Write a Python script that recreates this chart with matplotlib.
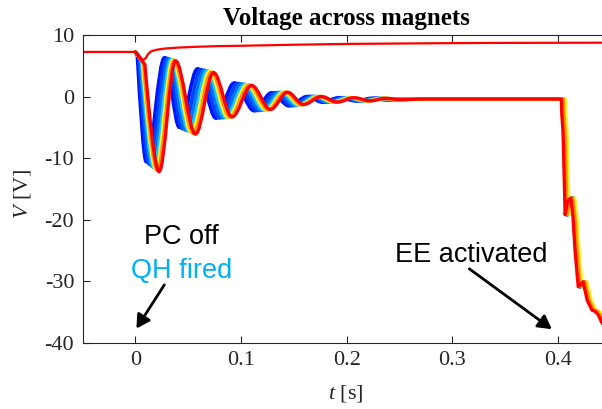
import matplotlib
matplotlib.use("Agg")
import matplotlib.pyplot as plt
from matplotlib.path import Path
from matplotlib.patches import PathPatch

plt.rcParams['axes.unicode_minus'] = False
plt.rcParams['mathtext.fontset'] = 'custom'
plt.rcParams['mathtext.it'] = 'Liberation Serif:italic'
plt.rcParams['mathtext.rm'] = 'Liberation Serif'

# ---------------- data ----------------
# upper red trace
t_top = [-0.05, 0.000, 0.002, 0.005, 0.0075, 0.010, 0.012, 0.015, 0.020, 0.028, 0.040,
         0.060, 0.080, 0.100, 0.150, 0.200, 0.250, 0.300, 0.350, 0.450]
v_top = [7.25, 7.25, 7.0, 6.3, 5.9, 6.3, 6.9, 7.35, 7.6, 7.8, 7.95,
         8.1, 8.2, 8.25, 8.42, 8.55, 8.62, 8.68, 8.72, 8.75]

# oscillating traces: start, knee, then alternating troughs / peaks, then settle point
t_c1 = [0.0, 0.0020, 0.0104, 0.0277, 0.0418, 0.0590, 0.0764, 0.0937, 0.1126, 0.1290,
        0.1456, 0.1630, 0.1770, 0.1930, 0.2090, 0.2240, 0.2400, 0.2600]
v_c1 = [7.25, 6.6, -10.6, 6.3, -5.0, 4.5, -3.5, 2.2, -2.3, 0.6,
        -1.5, 0.0, -0.9, -0.2, -0.7, -0.3, -0.55, -0.4]
t_c2 = [0.0, 0.0035, 0.0130, 0.0300, 0.0451, 0.0623, 0.0797, 0.0973, 0.1159, 0.1323,
        0.1486, 0.1659, 0.1801, 0.1961, 0.2119, 0.2269, 0.2426, 0.2622]
v_c2 = [7.25, 6.4, -10.95, 6.19, -5.24, 4.37, -3.46, 2.11, -2.26, 0.62,
        -1.46, 0.0, -0.9, -0.2, -0.7, -0.3, -0.54, -0.4]
t_c3 = [0.0, 0.0047, 0.0154, 0.0320, 0.0481, 0.0653, 0.0827, 0.1006, 0.1189, 0.1353,
        0.1512, 0.1685, 0.1829, 0.1989, 0.2145, 0.2295, 0.2450, 0.2642]
v_c3 = [7.25, 6.2, -11.27, 6.09, -5.46, 4.25, -3.42, 2.03, -2.22, 0.64,
        -1.42, 0.0, -0.9, -0.2, -0.7, -0.3, -0.53, -0.4]
t_c4 = [0.0, 0.0058, 0.0176, 0.0339, 0.0509, 0.0679, 0.0855, 0.1035, 0.1217, 0.1380,
        0.1536, 0.1708, 0.1854, 0.2014, 0.2168, 0.2318, 0.2472, 0.2660]
v_c4 = [7.25, 6.0, -11.56, 6.0, -5.66, 4.14, -3.38, 1.96, -2.18, 0.66,
        -1.38, 0.0, -0.9, -0.2, -0.7, -0.3, -0.52, -0.4]
t_c5 = [0.0, 0.0068, 0.0194, 0.0354, 0.0531, 0.0702, 0.0877, 0.1059, 0.1239, 0.1403,
        0.1557, 0.1728, 0.1875, 0.2035, 0.2188, 0.2338, 0.2490, 0.2675]
v_c5 = [7.25, 5.7, -11.8, 5.93, -5.83, 4.05, -3.35, 1.9, -2.15, 0.68,
        -1.35, 0.0, -0.9, -0.2, -0.7, -0.3, -0.51, -0.4]
t_c6 = [0.0, 0.0078, 0.0210, 0.0368, 0.0551, 0.0721, 0.0897, 0.1080, 0.1259, 0.1422,
        0.1574, 0.1744, 0.1893, 0.2053, 0.2204, 0.2354, 0.2506, 0.2688]
v_c6 = [7.25, 5.45, -12.0, 5.86, -5.97, 3.97, -3.32, 1.85, -2.12, 0.69,
        -1.32, 0.0, -0.9, -0.2, -0.7, -0.3, -0.5, -0.4]
t_c7 = [0.0, 0.0090, 0.0224, 0.0380, 0.0569, 0.0739, 0.0915, 0.1100, 0.1277, 0.1440,
        0.1590, 0.1760, 0.1910, 0.2070, 0.2220, 0.2370, 0.2520, 0.2700]
v_c7 = [7.25, 5.2, -12.2, 5.8, -6.1, 3.9, -3.3, 1.8, -2.1, 0.7,
        -1.3, 0.0, -0.9, -0.2, -0.7, -0.3, -0.5, -0.4]

# energy-extraction discharge: onset time per trace and common shape after onset
t_ee = [0.4045, 0.4048, 0.4052, 0.4058, 0.4066, 0.4048, 0.4030]
drop_dt = [0.0, 0.0005, 0.0015, 0.0020, 0.0036, 0.0060, 0.0090, 0.0110, 0.0130,
           0.0160, 0.0185, 0.0206, 0.0245, 0.0290, 0.0320, 0.0350, 0.0385, 0.0420]
drop_v = [-0.4, -3.0, -5.4, -8.0, -19.2, -17.0, -16.5, -19.5, -25.0,
          -30.9, -30.5, -30.1, -33.1, -34.7, -34.9, -35.5, -36.8, -37.5]

x_ticks = [0, 0.1, 0.2, 0.3, 0.4]
y_ticks = [-40, -30, -20, -10, 0, 10]

# ---------------- styling ----------------
colors = ['#0014FF', '#0040FF', '#0074FF', '#18C4FF', '#F2F030', '#FF9400', '#FF0000']
widths = [2.7, 2.7, 2.7, 2.7, 2.7, 2.6, 2.4]

fig = plt.figure(figsize=(6.02, 4.09), dpi=100)
W, H = 602.0, 409.0
ax = fig.add_axes([82.5 / W, (H - 342.7) / H, (611 - 82.5) / W, (342.7 - 35) / H])
ax.set_xlim(-0.05, 0.45)
ax.set_ylim(-40, 10)


def trace_path(ts, vs, t_on):
    verts = [(ts[0], vs[0]), (ts[1], vs[1])]
    codes = [Path.MOVETO, Path.LINETO]
    t0, v0, t1, v1 = ts[1], vs[1], ts[2], vs[2]
    d = t1 - t0
    verts += [(t0 + 0.3 * d, v0 + 0.45 * (v1 - v0)), (t1 - 0.3 * d, v1), (t1, v1)]
    codes += [Path.CURVE4] * 3
    for i in range(2, len(ts) - 1):
        t0, v0, t1, v1 = ts[i], vs[i], ts[i + 1], vs[i + 1]
        d = t1 - t0
        verts += [(t0 + 0.36 * d, v0), (t1 - 0.36 * d, v1), (t1, v1)]
        codes += [Path.CURVE4] * 3
    for dd, dv in zip(drop_dt, drop_v):
        verts.append((t_on + dd, dv))
        codes.append(Path.LINETO)
    return Path(verts, codes)


traces = [(t_c1, v_c1), (t_c2, v_c2), (t_c3, v_c3), (t_c4, v_c4),
          (t_c5, v_c5), (t_c6, v_c6), (t_c7, v_c7)]
for (ts, vs), ton, c, lw in zip(traces, t_ee, colors, widths):
    ax.add_patch(PathPatch(trace_path(ts, vs, ton), fill=False, edgecolor=c, lw=lw,
                           joinstyle='round', capstyle='round'))

ax.plot(t_top, v_top, color='#FF0000', lw=1.6)

# axes styling (MATLAB-like)
axc = '#262626'
for s in ['left', 'bottom', 'top']:
    ax.spines[s].set_color(axc)
    ax.spines[s].set_linewidth(0.8)
ax.spines['right'].set_visible(False)
ax.set_xticks(x_ticks)
ax.set_xticklabels(['0', '0.1', '0.2', '0.3', '0.4'])
ax.set_yticks(y_ticks)
ax.tick_params(direction='in', length=5, width=0.8, color=axc, labelcolor=axc,
               labelsize=16, top=True, right=False, pad=6)
for lab in ax.get_xticklabels() + ax.get_yticklabels():
    lab.set_fontfamily('Liberation Serif')

ax.set_title('Voltage across magnets', fontfamily='Liberation Serif',
             fontweight='bold', fontsize=18, pad=7)
ax.set_xlabel(r'$t$ [s]', fontfamily='Liberation Serif', fontsize=16, color=axc)
ax.set_ylabel(r'$V$ [V]', fontfamily='Liberation Serif', fontsize=16, color=axc)
ax.xaxis.set_label_coords((346 - 82.5) / (611 - 82.5), -(383 - 342.7) / (342.7 - 35))
ax.yaxis.set_label_coords(-(82.5 - 33) / (611 - 82.5), (342.7 - 194) / (342.7 - 35))

# annotations
ax.text(0.0434, -22.8, 'PC off', fontfamily='Liberation Sans', fontsize=19.5,
        color='black', ha='center', va='center')
ax.text(0.0434, -28.4, 'QH fired', fontfamily='Liberation Sans', fontsize=19.5,
        color='#00B0F0', ha='center', va='center')
ax.text(0.318, -25.8, 'EE activated', fontfamily='Liberation Sans', fontsize=19.5,
        color='black', ha='center', va='center')
arrow = dict(arrowstyle='-|>,head_length=0.8,head_width=0.45', color='black', lw=2,
             shrinkA=0, shrinkB=0)
ax.annotate('', xy=(0.001, -37.7), xytext=(0.0274, -30.6), arrowprops=arrow)
ax.annotate('', xy=(0.394, -37.8), xytext=(0.316, -28.0), arrowprops=arrow)

fig.savefig('out.png', dpi=100)
